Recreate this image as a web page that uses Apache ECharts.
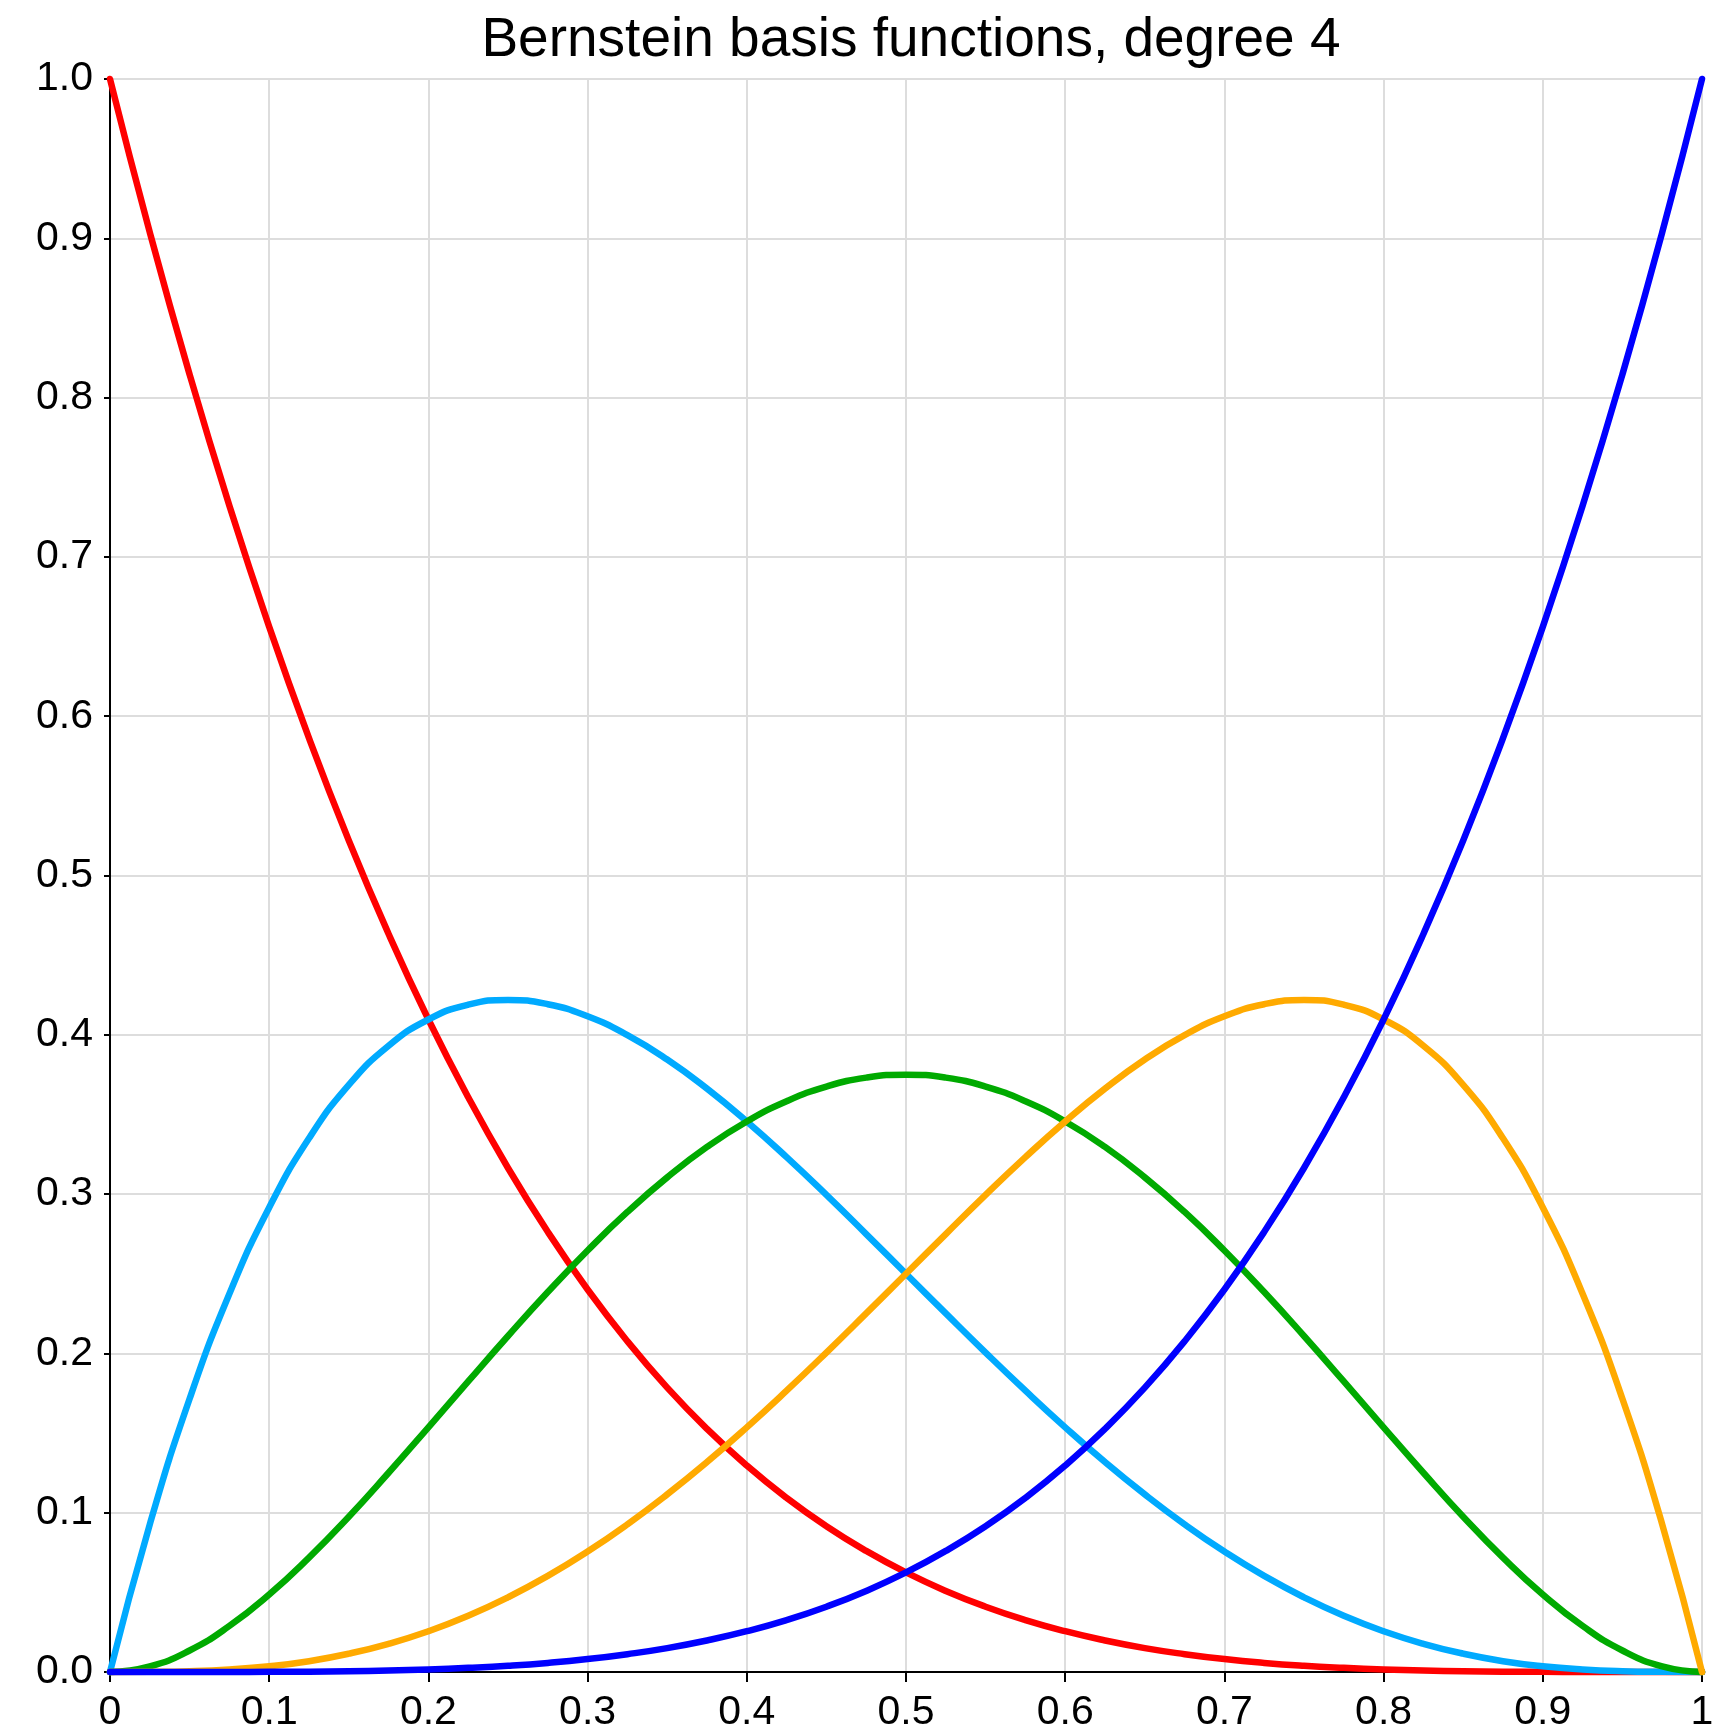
<!DOCTYPE html>
<html>
<head>
<meta charset="utf-8">
<script src="https://cdn.jsdelivr.net/npm/echarts@6/dist/echarts.min.js"></script>
<style>
html,body{margin:0;padding:0;background:#fff;}
#chart{width:1722px;height:1725px;}
</style>
</head>
<body>
<div id="chart"></div>
<script>
const title = 'Bernstein basis functions, degree 4';
const tValues = [0, 0.025, 0.05, 0.075, 0.1, 0.125, 0.15, 0.175, 0.2, 0.225, 0.25, 0.275, 0.3, 0.325, 0.35, 0.375, 0.4, 0.425, 0.45, 0.475, 0.5,
                 0.525, 0.55, 0.575, 0.6, 0.625, 0.65, 0.675, 0.7, 0.725, 0.75, 0.775, 0.8, 0.825, 0.85, 0.875, 0.9, 0.925, 0.95, 0.975, 1];
const b0 = [1, 0.9037, 0.8145, 0.7321, 0.6561, 0.5862, 0.5220, 0.4633, 0.4096, 0.3608, 0.3164, 0.2763, 0.2401, 0.2076, 0.1785, 0.1526, 0.1296, 0.1093, 0.0915, 0.0760, 0.0625,
            0.0509, 0.0410, 0.0326, 0.0256, 0.0198, 0.0150, 0.0112, 0.0081, 0.0057, 0.0039, 0.0026, 0.0016, 0.0009, 0.0005, 0.0002, 0.0001, 0.0000, 0.0000, 0.0000, 0];
const b1 = [0, 0.0927, 0.1715, 0.2374, 0.2916, 0.3350, 0.3685, 0.3931, 0.4096, 0.4189, 0.4219, 0.4192, 0.4116, 0.3998, 0.3845, 0.3662, 0.3456, 0.3232, 0.2995, 0.2749, 0.25,
            0.2251, 0.2005, 0.1766, 0.1536, 0.1318, 0.1115, 0.0927, 0.0756, 0.0603, 0.0469, 0.0353, 0.0256, 0.0177, 0.0115, 0.0068, 0.0036, 0.0016, 0.0005, 0.0001, 0];
const b2 = [0, 0.0036, 0.0135, 0.0289, 0.0486, 0.0718, 0.0975, 0.1251, 0.1536, 0.1824, 0.2109, 0.2385, 0.2646, 0.2888, 0.3105, 0.3296, 0.3456, 0.3583, 0.3675, 0.3731, 0.375,
            0.3731, 0.3675, 0.3583, 0.3456, 0.3296, 0.3105, 0.2888, 0.2646, 0.2385, 0.2109, 0.1824, 0.1536, 0.1251, 0.0975, 0.0718, 0.0486, 0.0289, 0.0135, 0.0036, 0];
const b3 = [0, 0.0001, 0.0005, 0.0016, 0.0036, 0.0068, 0.0115, 0.0177, 0.0256, 0.0353, 0.0469, 0.0603, 0.0756, 0.0927, 0.1115, 0.1318, 0.1536, 0.1766, 0.2005, 0.2251, 0.25,
            0.2749, 0.2995, 0.3232, 0.3456, 0.3662, 0.3845, 0.3998, 0.4116, 0.4192, 0.4219, 0.4189, 0.4096, 0.3931, 0.3685, 0.3350, 0.2916, 0.2374, 0.1715, 0.0927, 0];
const b4 = [0, 0.0000, 0.0000, 0.0000, 0.0001, 0.0002, 0.0005, 0.0009, 0.0016, 0.0026, 0.0039, 0.0057, 0.0081, 0.0112, 0.0150, 0.0198, 0.0256, 0.0326, 0.0410, 0.0509, 0.0625,
            0.0760, 0.0915, 0.1093, 0.1296, 0.1526, 0.1785, 0.2076, 0.2401, 0.2763, 0.3164, 0.3608, 0.4096, 0.4633, 0.5220, 0.5862, 0.6561, 0.7321, 0.8145, 0.9037, 1];
const seriesNames = ['B0', 'B1', 'B2', 'B3', 'B4'];
const seriesColors = ['#ff0000', '#00aaff', '#00aa00', '#ffaa00', '#0000ff'];
const seriesValues = [b0, b1, b2, b3, b4];

const chart = echarts.init(document.getElementById('chart'), null, {renderer: 'canvas'});
const font = 'Liberation Sans, Arial, Helvetica, sans-serif';
chart.setOption({
  backgroundColor: '#ffffff',
  animation: false,
  title: {
    text: title,
    left: 906,
    textAlign: 'center',
    top: 8,
    textStyle: {fontFamily: font, fontSize: 55, fontWeight: 'normal', color: '#000'}
  },
  grid: {left: 110, right: 20, top: 79, bottom: 53, containLabel: false, outerBoundsMode: 'none'},
  xAxis: {
    type: 'value', min: 0, max: 1, interval: 0.1,
    axisLine: {show: true, lineStyle: {color: '#000', width: 2}},
    axisTick: {show: true, length: 10, lineStyle: {color: '#000', width: 2}},
    axisLabel: {
      fontFamily: font, fontSize: 41, color: '#000', margin: 20,
      formatter: v => (Math.abs(v) < 1e-9 ? '0' : Math.abs(v - 1) < 1e-9 ? '1' : v.toFixed(1))
    },
    splitLine: {show: true, lineStyle: {color: '#dddddd', width: 2}}
  },
  yAxis: {
    type: 'value', min: 0, max: 1, interval: 0.1,
    axisLine: {show: true, lineStyle: {color: '#000', width: 2}},
    axisTick: {show: true, length: 6, lineStyle: {color: '#000', width: 2}},
    axisLabel: {
      fontFamily: font, fontSize: 41, color: '#000', margin: 17,
      formatter: v => v.toFixed(1)
    },
    splitLine: {show: true, lineStyle: {color: '#dddddd', width: 2}}
  },
  series: seriesValues.map((vals, i) => ({
    name: seriesNames[i],
    type: 'line',
    data: tValues.map((t, j) => [t, vals[j]]),
    smooth: 0.5,
    showSymbol: false,
    lineStyle: {color: seriesColors[i], width: 6.5, cap: 'round', join: 'round'},
    itemStyle: {color: seriesColors[i]},
    clip: false
  }))
});
</script>
</body>
</html>
